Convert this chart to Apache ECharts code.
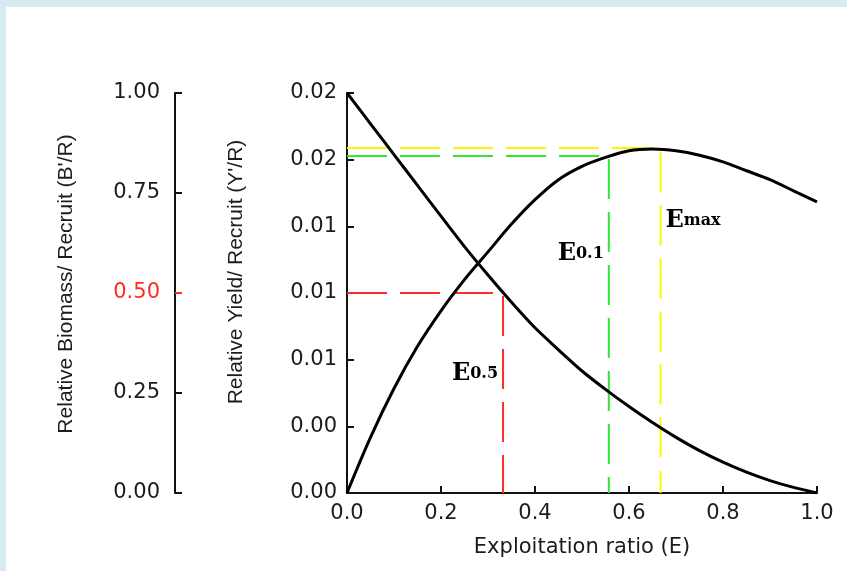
<!DOCTYPE html>
<html>
<head>
<meta charset="utf-8">
<script src="https://cdn.jsdelivr.net/npm/echarts@6/dist/echarts.min.js"></script>
<style>
  html, body { margin: 0; padding: 0; }
  #wrap { position: relative; width: 847px; height: 571px; background: #d7ebf0; overflow: hidden; }
  #panel { position: absolute; left: 6px; top: 7px; right: 0; bottom: 0; background: #ffffff; }
  #chart { position: absolute; left: 0; top: 0; width: 847px; height: 571px; }
</style>
</head>
<body>
<div id="wrap"><div id="panel"></div><div id="chart"></div></div>
<script>
// ---- data ----
const exploitation = [0, 0.05, 0.1, 0.15, 0.2, 0.25, 0.3, 0.35, 0.4, 0.45, 0.5,
                      0.55, 0.6, 0.65, 0.7, 0.75, 0.8, 0.85, 0.9, 0.95, 1.0];
const yieldPerRecruit = [0, 0.0025, 0.0047, 0.0066, 0.0082, 0.0096, 0.01085, 0.0121, 0.0132, 0.0141, 0.0147,
                         0.0151, 0.0154, 0.01548, 0.0154, 0.0152, 0.0149, 0.0145, 0.0141, 0.0136, 0.0131];
const biomassPerRecruit = [1.0, 0.923, 0.846, 0.769, 0.692, 0.616, 0.545, 0.477, 0.413, 0.358, 0.305,
                           0.259, 0.216, 0.176, 0.139, 0.106, 0.077, 0.052, 0.031, 0.014, 0.0];

const xTickLabels = ['0.0', '0.2', '0.4', '0.6', '0.8', '1.0'];
const yieldTickLabels = ['0.00', '0.00', '0.01', '0.01', '0.01', '0.02', '0.02'];
const biomassTickLabels = ['0.00', '0.25', '0.50', '0.75', '1.00'];

// reference points: E0.5 (on biomass axis), E0.1 and Emax (on yield axis)
const e05 = 0.332, b05 = 0.5;
const e01 = 0.557, y01 = 0.01517;
const eMax = 0.667, yMax = 0.01553;

// annotation anchors (E, Y/R) and subscripts
const annotE = [0.332, 0.557, 0.667];
const annotY = [0.00536, 0.01076, 0.01224];
const annotSub = ['0.5', '0.1', 'max'];

// ---- chart ----
const RED = '#ff2b2b', GREEN = '#33e633', YELLOW = '#f7f700', INK = '#1c1c1c';
const sansH = 'DejaVu Sans';
const sansV = 'Liberation Sans, Arial';

const chart = echarts.init(document.getElementById('chart'), null, { renderer: 'canvas' });

function pairs(xs, ys) { return xs.map((x, i) => [x, ys[i]]); }

const annotSide = ['left', 'left', 'right'];
const annotData = annotE.map((e, i) => ({
  value: [e, annotY[i]],
  label: { position: annotSide[i], formatter: '{e|E}{s|' + annotSub[i] + '}' }
}));

const axisCommon = {
  axisLine: { show: true, lineStyle: { color: '#111', width: 2 } },
  axisTick: { show: true, inside: true, length: 7, lineStyle: { color: '#111', width: 2 } },
  splitLine: { show: false }
};

const option = {
  animation: false,
  backgroundColor: 'transparent',
  grid: { left: 347, right: 30, top: 93, bottom: 78, containLabel: false },
  xAxis: Object.assign({}, axisCommon, {
    type: 'value', min: 0, max: 1, interval: 0.2,
    axisLabel: { formatter: (v) => xTickLabels[Math.round(v / 0.2)], fontFamily: sansH, fontSize: 21, color: INK, margin: 10 },
    name: 'Exploitation ratio (E)', nameLocation: 'middle', nameGap: 44,
    nameTextStyle: { fontFamily: sansH, fontSize: 21, color: INK }
  }),
  yAxis: [
    Object.assign({}, axisCommon, {
      type: 'value', position: 'left', min: 0, max: 0.018, interval: 0.003,
      axisLabel: { formatter: (v) => yieldTickLabels[Math.round(v / 0.003)], fontFamily: sansH, fontSize: 21, color: INK, margin: 10 },
      name: "Relative Yield/ Recruit (Y'/R)", nameLocation: 'middle', nameGap: 100,
      nameTextStyle: { fontFamily: sansV, fontSize: 21, color: INK, padding: [0, 0, 0, 42] }
    }),
    Object.assign({}, axisCommon, {
      type: 'value', position: 'left', offset: 172, min: 0, max: 1, interval: 0.25,
      axisLabel: {
        formatter: (v) => biomassTickLabels[Math.round(v / 0.25)], fontFamily: sansH, fontSize: 21, margin: 15,
        color: (v) => (Math.abs(v - 0.5) < 1e-9 ? RED : INK)
      },
      name: "Relative Biomass/ Recruit (B'/R)", nameLocation: 'middle', nameGap: 98,
      nameTextStyle: { fontFamily: sansV, fontSize: 21, color: INK, padding: [0, 0, 0, 18] }
    })
  ],
  series: [
    {
      type: 'line', yAxisIndex: 1, z: 2, symbol: 'none', silent: true,
      data: [[0, b05], [e05, b05], [e05, 0]],
      lineStyle: { color: RED, width: 2, type: [40, 13] }
    },
    {
      type: 'line', yAxisIndex: 0, z: 2, symbol: 'none', silent: true,
      data: [[0, y01], [e01, y01], [e01, 0]],
      lineStyle: { color: GREEN, width: 2, type: [40, 13] }
    },
    {
      type: 'line', yAxisIndex: 0, z: 2, symbol: 'none', silent: true,
      data: [[0, yMax], [eMax, yMax], [eMax, 0]],
      lineStyle: { color: YELLOW, width: 2, type: [40, 13] }
    },
    {
      name: 'Y/R', type: 'line', yAxisIndex: 0, z: 5, symbol: 'none', smooth: 0.3,
      data: pairs(exploitation, yieldPerRecruit),
      lineStyle: { color: '#000', width: 3 }
    },
    {
      name: 'B/R', type: 'line', yAxisIndex: 1, z: 5, symbol: 'none', smooth: 0.3,
      data: pairs(exploitation, biomassPerRecruit),
      lineStyle: { color: '#000', width: 3 }
    },
    {
      type: 'scatter', yAxisIndex: 0, z: 6, symbolSize: 0, silent: true,
      itemStyle: { color: '#000', opacity: 1 },
      data: annotData,
      label: {
        show: true, distance: 5, color: '#000', opacity: 1,
        rich: {
          e: { fontFamily: 'DejaVu Serif', fontWeight: 'bold', fontSize: 24, color: '#000' },
          s: { fontFamily: 'DejaVu Serif', fontWeight: 'bold', fontSize: 16, color: '#000' }
        }
      }
    }
  ]
};
chart.setOption(option);

// red tick for the 0.50 mark on the biomass axis
const yTick = chart.convertToPixel({ yAxisIndex: 1 }, 0.5);
const axisX = chart.convertToPixel({ xAxisIndex: 0 }, 0) - 172;
chart.setOption({
  graphic: [{
    type: 'line', z: 10, silent: true,
    shape: { x1: axisX, y1: yTick, x2: axisX + 7, y2: yTick },
    style: { stroke: RED, lineWidth: 2 }
  }]
});
</script>
</body>
</html>
